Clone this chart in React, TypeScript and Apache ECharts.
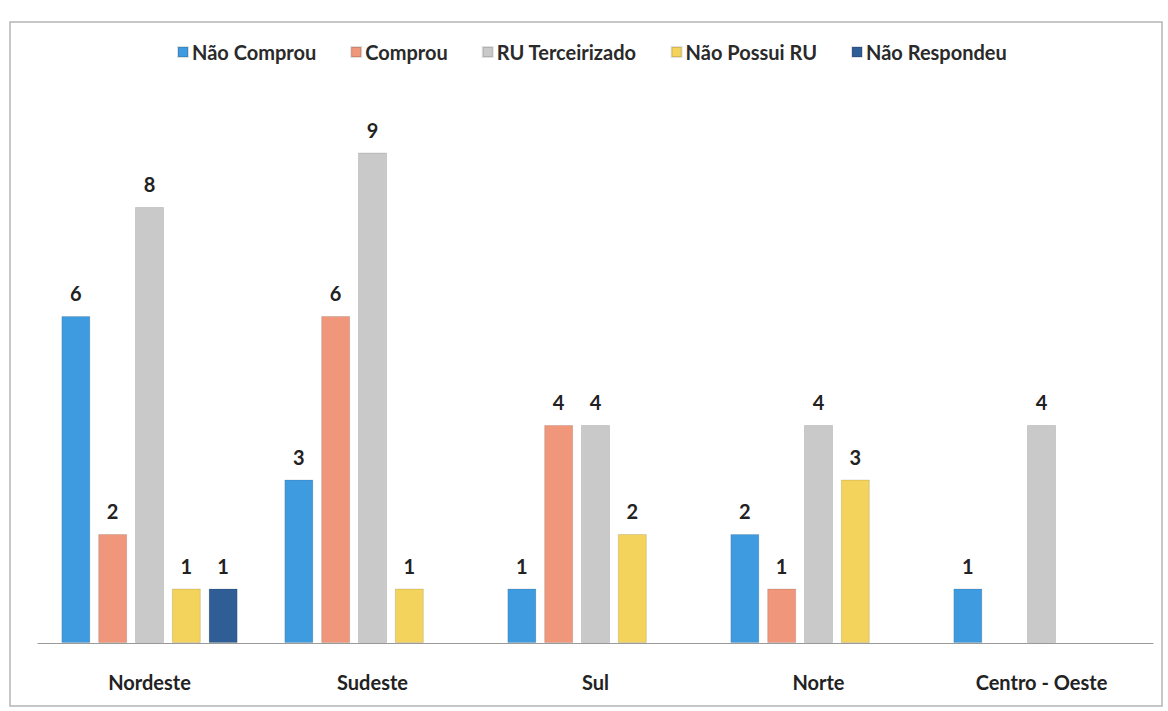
import React, { useEffect, useRef } from "react";
import * as echarts from "echarts";

const categories = ["Nordeste", "Sudeste", "Sul", "Norte", "Centro - Oeste"];
const naoComprou = [6, 3, 1, 2, 1];
const comprou = [2, 6, 4, 1, null];
const ruTerceirizado = [8, 9, 4, 4, 4];
const naoPossuiRU = [1, 1, 2, 3, null];
const naoRespondeu = [1, null, null, null, null];

const seriesNames = ["Não Comprou", "Comprou", "RU Terceirizado", "Não Possui RU", "Não Respondeu"];
const seriesData = [naoComprou, comprou, ruTerceirizado, naoPossuiRU, naoRespondeu];
const colors = ["#3f9be0", "#ef967b", "#c9c9c9", "#f3d35c", "#2f5d96"];

export default function App() {
  const ref = useRef<HTMLDivElement>(null);
  useEffect(() => {
    document.body.style.margin = "0";
    const chart = echarts.init(ref.current!, null, { renderer: "svg" });
    const font = "Lato, 'Open Sans', sans-serif";
    chart.setOption({
      animation: false,
      backgroundColor: "#ffffff",
      color: colors,
      textStyle: { fontFamily: font },
      graphic: [
        {
          type: "rect",
          shape: { x: 10, y: 22, width: 1152, height: 684 },
          style: { fill: "none", stroke: "#b5b5b5", lineWidth: 1.5 },
          silent: true,
        },
      ],
      legend: {
        top: 37,
        left: 172,
        itemWidth: 10,
        itemHeight: 10,
        itemGap: 34,
        icon: "rect",
        textStyle: { fontSize: 20, fontWeight: "bold", color: "#2a2a2a", fontFamily: font, padding: [0, 0, 0, -1] },
        data: seriesNames,
      },
      grid: { left: 38, right: 15, top: 98, bottom: 68, containLabel: false },
      xAxis: {
        type: "category",
        data: categories,
        axisLine: { lineStyle: { color: "#9a9a9a", width: 1.2 } },
        axisTick: { show: false },
        axisLabel: { fontSize: 20, fontWeight: "bold", color: "#222", margin: 29, fontFamily: font },
      },
      yAxis: {
        type: "value",
        min: 0,
        max: 10,
        show: false,
        splitLine: { show: false },
      },
      series: seriesNames.map((name, i) => ({
        name,
        type: "bar",
        data: seriesData[i],
        barWidth: 29,
        barGap: "27%",
        itemStyle: { color: colors[i], borderColor: "rgba(0,0,0,0.12)", borderWidth: 1 },
        label: {
          show: true,
          position: "top",
          distance: 13,
          fontSize: 20,
          fontWeight: "bold",
          color: "#222",
          fontFamily: font,
        },
      })),
    });
    return () => chart.dispose();
  }, []);
  return <div ref={ref} style={{ position: "absolute", left: 0, top: 0, width: 1168, height: 711 }} />;
}
